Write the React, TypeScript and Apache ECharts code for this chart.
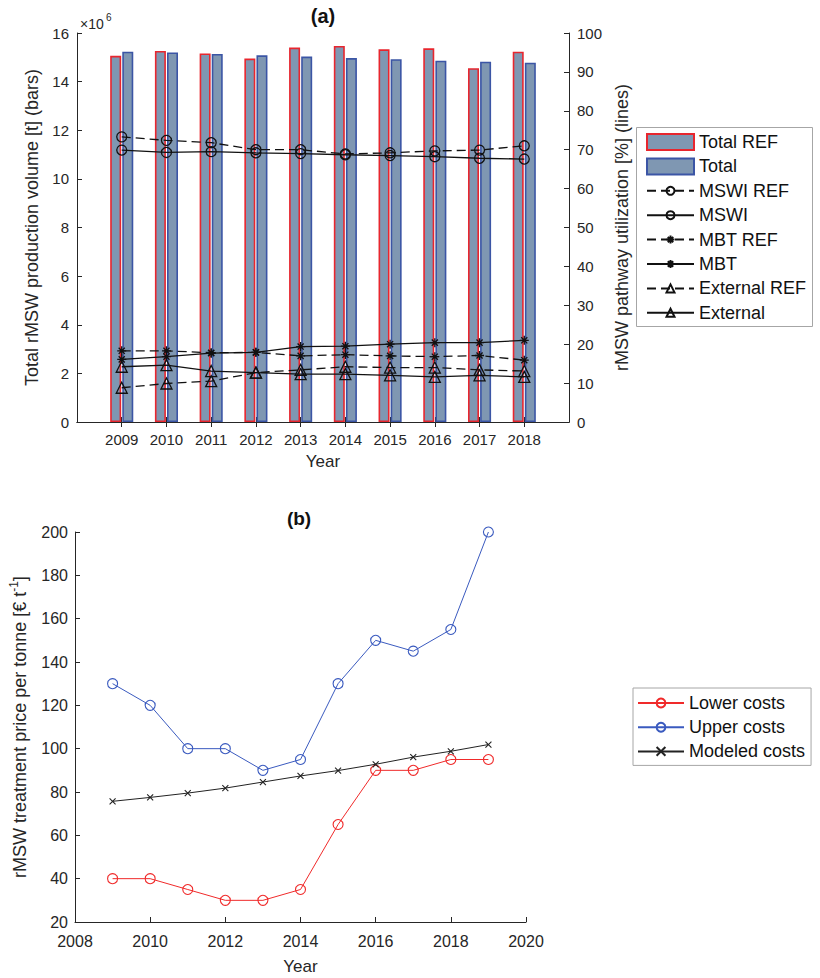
import React, { useEffect, useRef } from "react";
import * as echarts from "echarts";

// ---------- data (a) ----------
const yearsA = [2009, 2010, 2011, 2012, 2013, 2014, 2015, 2016, 2017, 2018];
const totalRef = [15.06e6, 15.26e6, 15.16e6, 14.95e6, 15.4e6, 15.47e6, 15.33e6, 15.37e6, 14.55e6, 15.23e6];
const total = [15.23e6, 15.2e6, 15.14e6, 15.08e6, 15.03e6, 14.97e6, 14.92e6, 14.86e6, 14.82e6, 14.78e6];
const mswiRef = [73.3, 72.4, 71.8, 70.0, 70.0, 68.9, 69.2, 69.7, 69.9, 71.0];
const mswi = [69.9, 69.3, 69.5, 69.2, 69.0, 68.7, 68.5, 68.2, 67.8, 67.6];
const mbtRef = [18.3, 18.3, 17.8, 17.9, 17.0, 17.3, 17.0, 16.8, 17.1, 15.9];
const mbt = [16.1, 16.8, 17.7, 17.9, 19.4, 19.5, 20.0, 20.4, 20.4, 21.0];
const extRef = [8.8, 9.9, 10.5, 12.7, 13.4, 14.2, 14.0, 14.0, 13.4, 13.1];
const ext = [14.2, 14.6, 13.1, 12.7, 12.3, 12.3, 12.0, 11.6, 12.0, 11.6];

// ---------- data (b) ----------
const yearsB = [2009, 2010, 2011, 2012, 2013, 2014, 2015, 2016, 2017, 2018, 2019];
const lowerCosts = [40, 40, 35, 30, 30, 35, 65, 90, 90, 95, 95];
const upperCosts = [130, 120, 100, 100, 90, 95, 130, 150, 145, 155, 200];
const modeledCosts = [75.7, 77.5, 79.5, 81.8, 84.6, 87.4, 89.9, 92.8, 96.1, 98.8, 101.9];

const FONT = '"Liberation Sans", Arial, Helvetica, sans-serif';
const TXT = "#262626";
const AX = "#262626";
const BARFILL = "#7f97b2";
const BAR_RED = "#e8262e";
const BAR_BLUE = "#3b55a5";
const ASTERISK = "path://M5,0L5,10M0,5L10,5M1.6,1.6L8.4,8.4M1.6,8.4L8.4,1.6";
const CROSS = "path://M0,0L10,10M0,10L10,0";

const pairs = (xs: number[], ys: number[]) => xs.map((x, i) => [x, ys[i]]);

export default function App() {
  const ref = useRef<HTMLDivElement>(null);

  useEffect(() => {
    if (!ref.current) return;
    const chart = echarts.init(ref.current, null, { renderer: "svg" });

    const axisLine = { show: true, lineStyle: { color: AX, width: 1 } };
    const tick = { show: true, inside: true, length: 5, lineStyle: { color: AX, width: 1 } };

    const topLine = (name: string, vals: number[], dashed: boolean, symbol: string, size: number) => ({
      type: "line",
      name,
      xAxisIndex: 0,
      yAxisIndex: 1,
      data: pairs(yearsA, vals),
      symbol,
      symbolSize: size,
      showSymbol: true,
      lineStyle: { color: "#111", width: 1.3, type: dashed ? [9, 5] : "solid" },
      itemStyle: { color: "rgba(0,0,0,0)", borderColor: "#111", borderWidth: 1.3 },
      emphasis: { disabled: true },
      z: 5,
    });

    const botLine = (name: string, vals: number[], color: string, symbol: string, size: number) => ({
      type: "line",
      name,
      xAxisIndex: 2,
      yAxisIndex: 2,
      data: pairs(yearsB, vals),
      symbol,
      symbolSize: size,
      showSymbol: true,
      lineStyle: { color, width: 1 },
      itemStyle: { color: "rgba(0,0,0,0)", borderColor: color, borderWidth: 1.1 },
      emphasis: { disabled: true },
      z: 5,
    });

    const legendText = { fontSize: 18, color: "#111", fontFamily: FONT, lineHeight: 18 };
    const yearFmt = (v: number) => String(v);

    const option: any = {
      animation: false,
      textStyle: { fontFamily: FONT },
      grid: [
        { left: 77, top: 33, width: 492, height: 389, containLabel: false },
        { left: 72, top: 532, width: 454, height: 390, containLabel: false },
      ],
      xAxis: [
        {
          gridIndex: 0,
          type: "value",
          min: 2008,
          max: 2019,
          interval: 1,
          position: "bottom",
          axisLine,
          axisTick: { ...tick, customValues: yearsA },
          axisLabel: { customValues: yearsA, formatter: yearFmt, fontSize: 15, color: TXT, margin: 10, fontFamily: FONT },
          splitLine: { show: false },
          name: "Year",
          nameLocation: "middle",
          nameGap: 31,
          nameTextStyle: { fontSize: 17, color: TXT, fontFamily: FONT },
        },
        {
          gridIndex: 0,
          type: "value",
          min: 2008,
          max: 2019,
          interval: 1,
          position: "top",
          axisLine,
          axisTick: { ...tick, customValues: yearsA },
          axisLabel: { show: false },
          splitLine: { show: false },
        },
        {
          gridIndex: 1,
          type: "value",
          min: 2008,
          max: 2020,
          interval: 2,
          position: "bottom",
          axisLine,
          axisTick: tick,
          axisLabel: { formatter: yearFmt, fontSize: 16, color: TXT, margin: 11, fontFamily: FONT },
          splitLine: { show: false },
          name: "Year",
          nameLocation: "middle",
          nameGap: 36,
          nameTextStyle: { fontSize: 17, color: TXT, fontFamily: FONT },
        },
      ],
      yAxis: [
        {
          gridIndex: 0,
          type: "value",
          min: 0,
          max: 16e6,
          interval: 2e6,
          position: "left",
          axisLine,
          axisTick: tick,
          axisLabel: {
            fontSize: 15,
            color: TXT,
            margin: 8,
            fontFamily: FONT,
            formatter: (v: number) => String(Math.round(v / 1e6)),
          },
          splitLine: { show: false },
          name: "Total rMSW production volume [t] (bars)",
          nameLocation: "middle",
          nameGap: 23,
          nameTextStyle: { fontSize: 18, color: TXT, fontFamily: FONT },
        },
        {
          gridIndex: 0,
          type: "value",
          min: 0,
          max: 100,
          interval: 10,
          position: "right",
          axisLine,
          axisTick: tick,
          axisLabel: { fontSize: 15, color: TXT, margin: 8, fontFamily: FONT },
          splitLine: { show: false },
          name: "rMSW pathway utilization [%] (lines)",
          nameLocation: "middle",
          nameGap: 28,
          nameTextStyle: { fontSize: 18, color: TXT, fontFamily: FONT },
        },
        {
          gridIndex: 1,
          type: "value",
          min: 20,
          max: 200,
          interval: 20,
          position: "left",
          axisLine,
          axisTick: tick,
          axisLabel: { fontSize: 16, color: TXT, margin: 7, fontFamily: FONT },
          splitLine: { show: false },
          name: "{n|rMSW treatment price per tonne [€ t}{s|-1}{n|]}",
          nameLocation: "middle",
          nameGap: 43,
          nameTextStyle: {
            fontSize: 18,
            color: TXT,
            fontFamily: FONT,
            rich: {
              n: { fontSize: 18, color: TXT, fontFamily: FONT, lineHeight: 24 },
              s: { fontSize: 12, color: TXT, fontFamily: FONT, verticalAlign: "top", lineHeight: 24 },
            },
          },
        },
      ],
      legend: [
        {
          orient: "vertical",
          left: 646,
          top: 133,
          itemWidth: 47,
          itemHeight: 16,
          itemGap: 6.4,
          padding: 0,
          selectedMode: false,
          textStyle: legendText,
          data: [
            { name: "Total REF", icon: "rect" },
            { name: "Total", icon: "rect" },
          ],
        },
        {
          orient: "vertical",
          left: 646,
          top: 181.8,
          itemWidth: 47,
          itemHeight: 10,
          itemGap: 6.4,
          padding: 0,
          selectedMode: false,
          textStyle: legendText,
          data: ["MSWI REF", "MSWI", "MBT REF", "MBT", "External REF", "External"],
        },
        {
          orient: "vertical",
          left: 633,
          top: 688,
          itemWidth: 46,
          itemHeight: 11,
          itemGap: 6.2,
          padding: [6, 6, 5, 4],
          borderColor: "#a6a6a6",
          borderWidth: 1,
          backgroundColor: "#fff",
          selectedMode: false,
          textStyle: legendText,
          data: ["Lower costs", "Upper costs", "Modeled costs"],
        },
      ],
      graphic: [
        {
          type: "rect",
          shape: { x: 636.5, y: 127.5, width: 176, height: 199 },
          style: { fill: "#fff", stroke: "#a6a6a6", lineWidth: 1 },
          z: 0,
          zlevel: 0,
        },
        {
          type: "text",
          x: 323,
          y: 16,
          style: { text: "(a)", fontSize: 20, fontWeight: "bold", fontFamily: FONT, fill: "#111", align: "center", verticalAlign: "middle" },
        },
        {
          type: "text",
          x: 299,
          y: 518,
          style: { text: "(b)", fontSize: 19, fontWeight: "bold", fontFamily: FONT, fill: "#111", align: "center", verticalAlign: "middle" },
        },
        {
          type: "text",
          x: 80,
          y: 24,
          style: { text: "×10", fontSize: 14, fontFamily: FONT, fill: TXT, align: "left", verticalAlign: "middle" },
        },
        {
          type: "text",
          x: 106,
          y: 17,
          style: { text: "6", fontSize: 10, fontFamily: FONT, fill: TXT, align: "left", verticalAlign: "middle" },
        },
      ],
      series: [
        {
          type: "bar",
          name: "Total REF",
          xAxisIndex: 0,
          yAxisIndex: 0,
          data: pairs(yearsA, totalRef),
          barWidth: 11,
          barGap: "10%",
          itemStyle: { color: BARFILL, borderColor: BAR_RED, borderWidth: 1.6 },
          emphasis: { disabled: true },
          z: 2,
        },
        {
          type: "bar",
          name: "Total",
          xAxisIndex: 0,
          yAxisIndex: 0,
          data: pairs(yearsA, total),
          barWidth: 11,
          barGap: "10%",
          itemStyle: { color: BARFILL, borderColor: BAR_BLUE, borderWidth: 1.6 },
          emphasis: { disabled: true },
          z: 2,
        },
        topLine("MSWI REF", mswiRef, true, "circle", 10),
        topLine("MSWI", mswi, false, "circle", 10),
        topLine("MBT REF", mbtRef, true, ASTERISK, 9),
        topLine("MBT", mbt, false, ASTERISK, 9),
        topLine("External REF", extRef, true, "triangle", 11),
        topLine("External", ext, false, "triangle", 11),
        botLine("Lower costs", lowerCosts, "#f02a2a", "circle", 10),
        botLine("Upper costs", upperCosts, "#3a5abf", "circle", 10),
        botLine("Modeled costs", modeledCosts, "#222222", CROSS, 6),
      ],
    };

    chart.setOption(option);
    return () => chart.dispose();
  }, []);

  return (
    <div
      ref={ref}
      style={{ position: "absolute", left: 0, top: 0, width: 820, height: 978, background: "#fff" }}
    />
  );
}
